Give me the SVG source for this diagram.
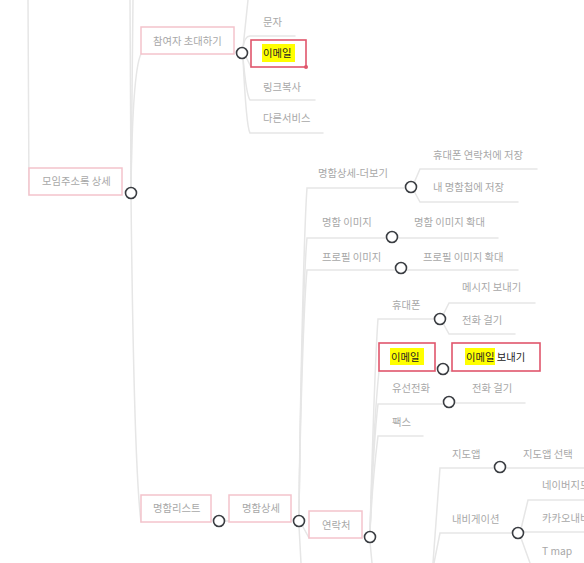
<svg xmlns="http://www.w3.org/2000/svg" width="584" height="563" viewBox="0 0 584 563">
<style>
.c{fill:none;stroke:#e6e6e6;stroke-width:1.5;stroke-linecap:round}
.t{font-family:"Noto Sans CJK KR","Noto Sans",sans-serif;font-size:10.3px;fill:#a8a8a8}
.tk{font-family:"Noto Sans CJK KR","Noto Sans",sans-serif;font-size:10.3px;fill:#222}
.pb{fill:#fff;stroke:#f4c3cc;stroke-width:1.5}
.rb{fill:#fff;stroke:#e0566c;stroke-width:1.6}
.hl{fill:#ffff00}
.k{fill:#fff;stroke:#3a3d42;stroke-width:1.6}
</style>
<rect width="584" height="563" fill="#fff"/>
<g id="connectors">
<path class="c" d="M28,0 L29,195"/>
<path class="c" d="M131,190 L130,0"/>
<path class="c" d="M131,190 L133,0"/>
<path class="c" d="M131,190 C132,110 136,64 141,54"/>
<path class="c" d="M131,196 C133,380 137,490 141,522"/>
<path class="c" d="M224,521 L229,521"/>
<path class="c" d="M243,48 L248,0"/>
<path class="c" d="M243,48 C244,40 246,36 250,36 L295,36"/>
<path class="c" d="M246,57 L251,67"/>
<path class="c" d="M243,58 C245,80 247,96 250,100 L315,100"/>
<path class="c" d="M243,58 C245,100 247,128 250,133 L323,133"/>
<path class="c" d="M299,516 C300,400 304,230 307,188 L406,188"/>
<path class="c" d="M299,516 C300,400 304,270 307,238 L387,238"/>
<path class="c" d="M397,238 L498,238"/>
<path class="c" d="M299,516 C300,420 304,300 307,270 L396,270"/>
<path class="c" d="M406,270 L518,270"/>
<path class="c" d="M302,525 L309,538"/>
<path class="c" d="M299,526 L301,563"/>
<path class="c" d="M414,183 L420,169 L537,169"/>
<path class="c" d="M414,191 L420,202 L518,202"/>
<path class="c" d="M370,532 C372,460 375,360 378,319 L435,319"/>
<path class="c" d="M370,532 C372,470 376,400 379,371"/>
<path class="c" d="M370,532 C372,480 375,430 378,404 L444,404"/>
<path class="c" d="M370,532 C372,490 375,460 378,436 L423,436"/>
<path class="c" d="M370,542 L372,563"/>
<path class="c" d="M443,315 L449,303 L535,303"/>
<path class="c" d="M443,323 L449,334 L515,334"/>
<path class="c" d="M448,371 L452,371"/>
<path class="c" d="M454,403 L525,403"/>
<path class="c" d="M433,563 L440,468 L495,468"/>
<path class="c" d="M505,468 L584,468"/>
<path class="c" d="M434,563 L440,533 L513,533"/>
<path class="c" d="M521,529 L528,500 L584,500"/>
<path class="c" d="M523,532 L584,532"/>
<path class="c" d="M521,538 L530,563"/>
</g>
<g id="n-moim">
<rect class="pb" x="29" y="168" width="93" height="27"/>
<text class="t" x="42" y="185">모임주소록 상세</text>
<circle class="k" cx="131" cy="193" r="5.5"/>
</g>
<g id="n-invite">
<rect class="pb" x="141" y="27" width="93" height="27"/>
<text class="t" x="153" y="45">참여자 초대하기</text>
<circle class="k" cx="242" cy="53" r="5.5"/>
</g>
<g id="n-sms"><text class="t" x="263" y="26">문자</text></g>
<g id="n-email1">
<rect class="rb" x="251" y="40" width="55" height="27"/>
<rect class="hl" x="262" y="44" width="33" height="18"/>
<text class="tk" x="263" y="57">이메일</text>
<circle cx="306" cy="67" r="2" fill="#e0566c"/>
</g>
<g id="n-link"><text class="t" x="263" y="91">링크복사</text></g>
<g id="n-other"><text class="t" x="263" y="122">다른서비스</text></g>
<g id="n-cardlist">
<rect class="pb" x="141" y="495" width="70" height="27"/>
<text class="t" x="153" y="512">명함리스트</text>
<circle class="k" cx="219" cy="521" r="5.5"/>
</g>
<g id="n-carddetail">
<rect class="pb" x="229" y="495" width="62" height="27"/>
<text class="t" x="242" y="512">명함상세</text>
<circle class="k" cx="299" cy="521" r="5.5"/>
</g>
<g id="n-more">
<text class="t" x="318" y="177">명함상세-더보기</text>
<circle class="k" cx="411" cy="187" r="5.5"/>
</g>
<g id="n-save1"><text class="t" x="433" y="159">휴대폰 연락처에 저장</text></g>
<g id="n-save2"><text class="t" x="433" y="191">내 명함첩에 저장</text></g>
<g id="n-cardimg">
<text class="t" x="322" y="226">명함 이미지</text>
<circle class="k" cx="392" cy="237" r="5.5"/>
</g>
<g id="n-cardimg-zoom"><text class="t" x="414" y="226">명함 이미지 확대</text></g>
<g id="n-profimg">
<text class="t" x="322" y="261">프로필 이미지</text>
<circle class="k" cx="401" cy="268" r="5.5"/>
</g>
<g id="n-profimg-zoom"><text class="t" x="423" y="261">프로필 이미지 확대</text></g>
<g id="n-contact">
<rect class="pb" x="309" y="511" width="53" height="27"/>
<text class="t" x="322" y="529">연락처</text>
<circle class="k" cx="370" cy="537" r="5.5"/>
</g>
<g id="n-mobile">
<text class="t" x="392" y="309">휴대폰</text>
<circle class="k" cx="440" cy="319" r="5.5"/>
</g>
<g id="n-msg"><text class="t" x="462" y="291">메시지 보내기</text></g>
<g id="n-call1"><text class="t" x="462" y="324">전화 걸기</text></g>
<g id="n-email2">
<rect class="rb" x="379" y="343" width="56" height="28"/>
<rect class="hl" x="390" y="348" width="34" height="17"/>
<text class="tk" x="391" y="361">이메일</text>
<circle class="k" cx="443" cy="369" r="5.5"/>
</g>
<g id="n-sendmail">
<rect class="rb" x="452" y="343" width="88" height="28"/>
<rect class="hl" x="465" y="348" width="30" height="17"/>
<text class="tk" x="466" y="361">이메일 보내기</text>
</g>
<g id="n-landline">
<text class="t" x="392" y="392">유선전화</text>
<circle class="k" cx="449" cy="402" r="5.5"/>
</g>
<g id="n-call2"><text class="t" x="472" y="392">전화 걸기</text></g>
<g id="n-fax"><text class="t" x="392" y="426">팩스</text></g>
<g id="n-mapapp">
<text class="t" x="452" y="458">지도앱</text>
<circle class="k" cx="500" cy="467" r="5.5"/>
</g>
<g id="n-mapsel"><text class="t" x="523" y="458">지도앱 선택</text></g>
<g id="n-navi">
<text class="t" x="452" y="523">내비게이션</text>
<circle class="k" cx="518" cy="533" r="5.5"/>
</g>
<g id="n-naver"><text class="t" x="542" y="489">네이버지도</text></g>
<g id="n-kakao"><text class="t" x="542" y="522">카카오내비</text></g>
<g id="n-tmap"><text class="t" x="542" y="555">T map</text></g>
</svg>
